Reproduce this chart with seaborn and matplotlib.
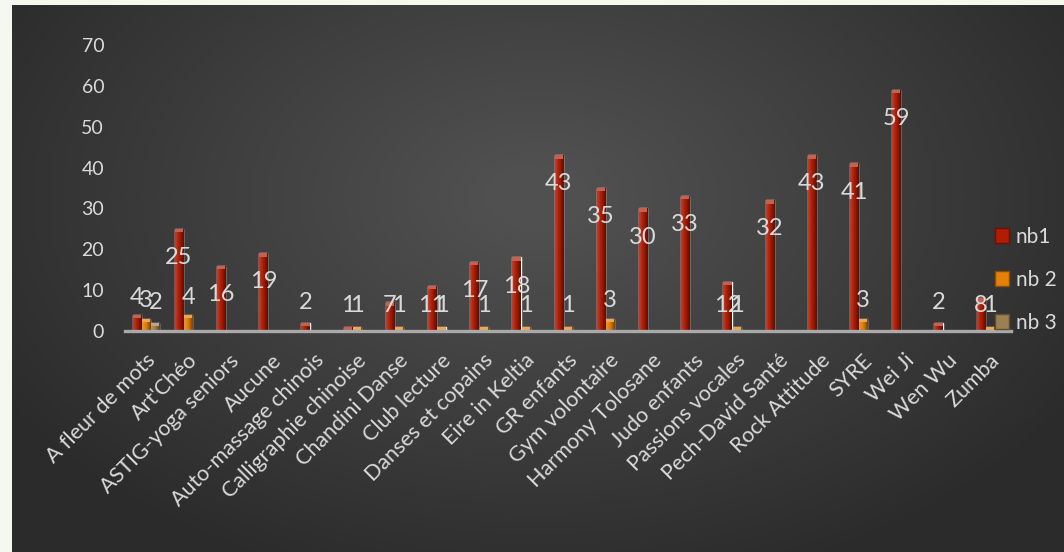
import numpy as np
import pandas as pd
import matplotlib
matplotlib.use("Agg")
import matplotlib.pyplot as plt
import matplotlib.transforms as mtransforms
import seaborn as sns
from matplotlib.colors import LinearSegmentedColormap, to_rgb
from matplotlib.patches import Rectangle

# data
categories = ["A fleur de mots", "Art'Chéo", "ASTIG-yoga seniors", "Aucune",
              "Auto-massage chinois", "Calligraphie chinoise", "Chandini Danse",
              "Club lecture", "Danses et copains", "Eire in Keltia", "GR enfants",
              "Gym volontaire", "Harmony Tolosane", "Judo enfants", "Passions vocales",
              "Pech-David Santé", "Rock Attitude", "SYRE", "Wei Ji", "Wen Wu", "Zumba"]
nb1 = [4, 25, 16, 19, 2, 1, 7, 11, 17, 18, 43, 35, 30, 33, 12, 32, 43, 41, 59, 2, 8]
nb2 = [3, 4, None, None, None, 1, 1, 1, 1, 1, 1, 3, None, None, 1, None, None, 3, None, None, 1]
nb3 = [2, None, None, None, None, None, None, None, None, None, None,
       None, None, None, None, None, None, None, None, None, None]
series_names = ["nb1", "nb 2", "nb 3"]
series_colors = ["#b01c04", "#e4800a", "#9c8050"]
y_ticks = [0, 10, 20, 30, 40, 50, 60, 70]

sns.set_theme(style="white")
plt.rcParams["font.family"] = ["Lato", "DejaVu Sans"]
text_color = "#dadada"

rows = []
for name, vals in zip(series_names, [nb1, nb2, nb3]):
    for cat, v in zip(categories, vals):
        if v is not None:
            rows.append({"club": cat, "serie": name, "nb": v})
df = pd.DataFrame(rows)

fig = plt.figure(figsize=(10.64, 5.52), dpi=100)
fig.patch.set_facecolor("#f5f8ef")

# dark radial background panel
bg = fig.add_axes([12 / 1064, 0, 1 - 12 / 1064, 1 - 5 / 552])
yy, xx = np.mgrid[0:1:300j, 0:1:600j]
r = np.sqrt((xx - 0.5) ** 2 + ((yy - 0.35) * 0.8) ** 2)
bg_cmap = LinearSegmentedColormap.from_list("bg", ["#505050", "#2b2b2b"])
bg.imshow(r, cmap=bg_cmap, aspect="auto", extent=[0, 1, 0, 1], vmin=0.05, vmax=0.6)
bg.axis("off")

ax = fig.add_axes([125 / 1064, 1 - 331 / 552, (1011 - 125) / 1064, (331 - 45) / 552])
ax.patch.set_alpha(0)
sns.barplot(data=df, x="club", y="nb", hue="serie", order=categories,
            hue_order=series_names, palette=series_colors, width=0.66, gap=0.12,
            saturation=1, legend=False, ax=ax)


def shade(c, f):
    c = np.array(to_rgb(c))
    return tuple(np.clip(c * f, 0, 1)) if f < 1 else tuple(c + (1 - c) * (f - 1))


# give the bars a little bevel look
for cont, col in zip(ax.containers, series_colors):
    for bar in cont:
        h = bar.get_height()
        if not np.isfinite(h) or h <= 0:
            continue
        x0, w = bar.get_x(), bar.get_width()
        grad = np.array([[shade(col, 1.15), shade(col, 1.0), shade(col, 0.9), shade(col, 0.55)]])
        im = ax.imshow(grad, extent=[x0, x0 + w, 0, h], aspect="auto",
                       interpolation="bicubic", zorder=bar.get_zorder() + 0.1)
        im.set_clip_path(bar)
        ax.add_patch(Rectangle((x0, h - 0.8), w, 0.8, color=shade(col, 1.3),
                               lw=0, zorder=bar.get_zorder() + 0.2))


def label_y(v):
    if v <= 4:
        return 6.3 + (v - 1) * 0.6
    if v < 14:
        return 6.3
    return v - 7


for cont in ax.containers:
    for bar in cont:
        h = bar.get_height()
        if not np.isfinite(h) or h <= 0:
            continue
        ax.text(bar.get_x() + bar.get_width() / 2, label_y(h), f"{h:g}",
                ha="center", va="center", fontsize=17, color=text_color, zorder=5)

ax.set_xlim(-0.5, len(categories) - 0.5)
ax.set_ylim(0, 70)
ax.set_yticks(y_ticks)
ax.set_xlabel("")
ax.set_ylabel("")
ax.tick_params(axis="y", length=0, pad=15, labelsize=14, labelcolor=text_color)
ax.tick_params(axis="x", length=0, pad=19, labelsize=15.5, labelcolor=text_color)
offset = mtransforms.ScaledTranslation(6 / 100, 0, fig.dpi_scale_trans)
for lab in ax.get_xticklabels():
    lab.set_rotation(45)
    lab.set_ha("right")
    lab.set_va("center")
    lab.set_rotation_mode("anchor")
    lab.set_transform(lab.get_transform() + offset)

for s in ["top", "right", "left"]:
    ax.spines[s].set_visible(False)
ax.spines["bottom"].set_color("#a9a9a9")
ax.spines["bottom"].set_linewidth(2.4)
ax.spines["bottom"].set_zorder(4)

handles = [Rectangle((0, 0), 1, 1, facecolor=c, edgecolor=shade(c, 0.6), lw=1)
           for c in series_colors]
fig.legend(handles, series_names, loc="center left",
           bbox_to_anchor=(976 / 1064, 1 - 280 / 552), frameon=False, fontsize=15,
           handlelength=0.7, handleheight=0.7, handletextpad=0.3, labelspacing=1.1,
           labelcolor=text_color)

fig.savefig("out.png", dpi=100, facecolor=fig.get_facecolor())
